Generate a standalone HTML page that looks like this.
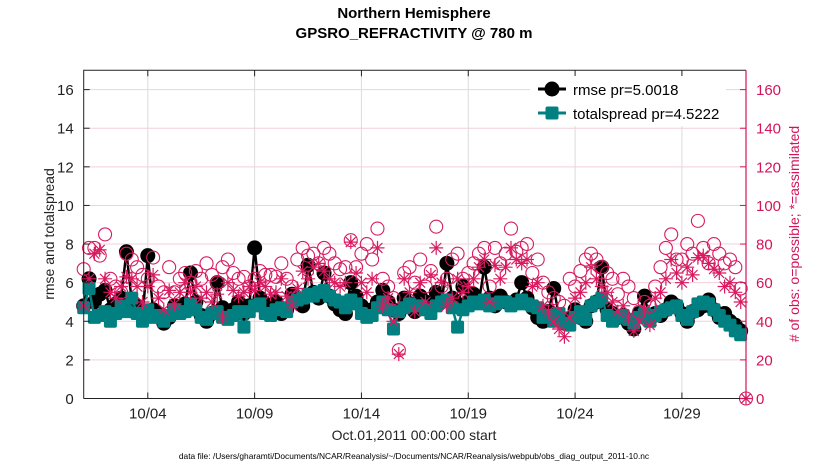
<!DOCTYPE html>
<html><head><meta charset="utf-8"><style>
html,body{margin:0;padding:0;background:#fff;}
svg{display:block;font-family:"Liberation Sans",Arial,sans-serif;}
</style></head><body>
<svg id="chart" width="830" height="470" viewBox="0 0 830 470">
<text x="414" y="18" text-anchor="middle" font-size="15" font-weight="bold" fill="#000">Northern Hemisphere</text>
<text x="414" y="38" text-anchor="middle" font-size="15" font-weight="bold" fill="#000">GPSRO_REFRACTIVITY @ 780 m</text>
<g id="grid"></g>
<g id="series"></g>
<g id="axes"></g>
<text transform="translate(54,234) rotate(-90)" text-anchor="middle" font-size="14" fill="#222">rmse and totalspread</text>
<text transform="translate(799,234) rotate(-90)" text-anchor="middle" font-size="14" fill="#d4145a"># of obs: o=possible; *=assimilated</text>
<text x="414" y="440" text-anchor="middle" font-size="14" fill="#222">Oct.01,2011 00:00:00 start</text>
<text x="414" y="459" text-anchor="middle" font-size="8.4" fill="#000">data file: /Users/gharamti/Documents/NCAR/Reanalysis/~/Documents/NCAR/Reanalysis/webpub/obs_diag_output_2011-10.nc</text>
<g>
<rect x="530" y="76" width="196" height="50" fill="#fff"/>
<line x1="538" y1="89" x2="566" y2="89" stroke="#000" stroke-width="3"/>
<circle cx="552" cy="89" r="7.5" fill="#000"/>
<text x="573" y="95" font-size="15" fill="#000">rmse pr=5.0018</text>
<line x1="538" y1="113" x2="566" y2="113" stroke="#008080" stroke-width="3"/>
<rect x="545.5" y="106.5" width="13" height="13" rx="2" fill="#008080"/>
<text x="573" y="119" font-size="15" fill="#000">totalspread pr=4.5222</text>
</g>
</svg>
<script>
const rmse=[4.8,6.2,5.0,5.4,5.6,4.6,4.9,5.2,7.6,5.0,4.8,4.3,
7.4,4.6,4.4,3.9,4.2,4.8,4.6,4.9,6.5,5.0,4.3,4.0,
4.4,6.0,4.7,4.2,4.6,5.0,4.4,4.8,7.8,5.2,4.9,4.8,
5.0,4.4,4.6,5.4,5.0,4.8,6.9,5.5,5.2,6.5,5.3,4.9,
4.6,4.4,6.0,5.3,4.8,4.3,4.6,5.0,5.6,5.0,4.6,4.4,
5.2,4.9,4.5,5.3,5.0,4.7,5.5,5.0,7.0,5.2,4.9,5.8,
5.0,5.4,5.0,6.8,5.2,4.8,5.3,5.0,4.9,5.1,6.0,5.2,
4.7,4.2,4.0,4.5,5.7,4.3,3.9,4.1,4.6,4.2,4.0,4.8,
5.0,6.8,4.6,4.4,4.2,4.3,3.9,3.6,4.4,5.3,4.1,4.4,
4.3,4.6,5.0,4.8,4.4,4.0,4.5,4.6,4.8,5.1,4.6,4.2,
4.4,4.0,3.8,3.5];
const spread=[4.7,5.7,4.2,4.3,4.5,4.0,4.4,4.8,4.5,5.2,4.4,4.0,
4.6,4.2,4.3,4.0,4.3,4.6,4.4,4.5,4.9,4.6,4.2,4.1,
4.4,4.5,4.2,4.1,4.3,4.5,3.7,4.5,4.8,4.9,4.4,4.3,
4.6,4.7,4.5,5.0,5.1,5.2,5.4,5.3,5.5,5.6,5.3,5.1,
5.0,4.7,5.1,4.9,4.4,4.2,4.3,4.7,5.0,4.6,3.6,4.5,
4.7,4.9,4.8,4.8,4.6,4.4,4.8,5.0,5.1,4.7,3.7,4.6,
4.8,5.0,4.9,5.1,4.8,4.9,5.0,5.0,4.8,4.9,5.1,4.9,
4.8,4.7,4.2,4.3,4.0,4.4,3.9,3.8,4.2,4.5,4.1,4.8,
5.0,5.2,4.3,4.0,4.2,4.3,4.1,3.9,4.2,4.4,4.0,4.3,
4.5,4.6,4.7,4.8,4.3,4.1,4.5,4.9,5.0,4.9,4.6,4.3,
4.0,3.8,3.5,3.3];
const possible=[67,78,78,74,85,62,58,55,75,72,68,64,
62,73,58,55,68,55,62,65,60,66,62,70,
64,60,68,72,65,62,63,58,62,66,64,64,
63,70,62,58,72,78,74,75,70,78,75,70,
67,68,82,68,75,80,72,88,62,58,52,25,
65,68,60,72,58,66,89,58,62,72,75,62,
65,70,75,78,58,78,70,75,88,76,78,80,
65,72,60,55,52,50,48,62,58,66,72,75,
72,68,65,62,54,62,58,52,45,50,48,58,
68,78,85,72,72,80,75,92,78,70,80,75,
70,72,68,57,0];
const assimilated=[48,62,75,77,62,55,52,58,63,62,58,50,
58,64,52,46,56,49,55,60,55,58,52,55,
50,54,42,60,56,53,55,58,56,60,58,54,
55,62,53,48,57,66,62,68,70,66,62,60,
58,60,81,65,60,55,62,78,48,52,40,23,
62,55,45,60,50,64,78,60,48,52,62,55,
58,62,68,72,50,69,62,68,78,72,70,72,
58,60,48,45,40,36,32,42,52,55,60,68,
62,58,55,50,45,48,42,35,40,46,38,52,
55,62,72,65,60,68,64,73,74,70,67,65,
58,60,55,50,0];
const xTickDays=[3,8,13,18,23,28];
const xTickLabels=["10/04","10/09","10/14","10/19","10/24","10/29"];
const yLeftTicks=[0,2,4,6,8,10,12,14,16];
const yRightTicks=[0,20,40,60,80,100,120,140,160];
const STEP_DAYS=0.25;

const L=83.7,R=746,T=70.3,B=398.5,XMAX=31,YMAX=17,YRMAX=170;
const xs=d=>L+d/XMAX*(R-L);
const yl=v=>B-v/YMAX*(B-T);
const yr=v=>B-v/YRMAX*(B-T);
const NS='http://www.w3.org/2000/svg';
function mk(tag,attrs,parent){const e=document.createElementNS(NS,tag);for(const k in attrs)e.setAttribute(k,attrs[k]);parent.appendChild(e);return e;}
const grid=document.getElementById('grid'),ser=document.getElementById('series'),ax=document.getElementById('axes');

yLeftTicks.forEach(v=>{if(v===0)return;const e=mk('line',{x1:L,x2:R,y1:yl(v),y2:yl(v),stroke:'#f3cfdc','stroke-width':1},grid);

});
xTickDays.forEach(d=>{const e=mk('line',{x1:xs(d),x2:xs(d),y1:T,y2:B,stroke:'#dcdcdc','stroke-width':1},grid);

});

let p='';rmse.forEach((v,i)=>{p+=(i?'L':'M')+xs(i*STEP_DAYS).toFixed(1)+' '+yl(v).toFixed(1);});
const rl=mk('path',{d:p,fill:'none',stroke:'#000','stroke-width':2.5},ser);


rmse.forEach((v,i)=>{const c=mk('circle',{cx:xs(i*STEP_DAYS),cy:yl(v),r:7.5,fill:'#000'},ser);

});
p='';spread.forEach((v,i)=>{p+=(i?'L':'M')+xs(i*STEP_DAYS).toFixed(1)+' '+yl(v).toFixed(1);});
const sl=mk('path',{d:p,fill:'none',stroke:'#008080','stroke-width':2.5},ser);


spread.forEach((v,i)=>{const s=mk('rect',{x:xs(i*STEP_DAYS)-6.5,y:yl(v)-6.5,width:13,height:13,rx:2,fill:'#008080'},ser);

});
possible.forEach((v,i)=>{const c=mk('circle',{cx:xs(i*STEP_DAYS),cy:yr(v),r:6.5,fill:'none',stroke:'#d81b60','stroke-width':1.1},ser);

});
assimilated.forEach((v,i)=>{const cx=xs(i*STEP_DAYS),cy=yr(v),r=7;
let d='';for(let k=0;k<4;k++){const a=k*Math.PI/4;d+=`M${(cx-r*Math.cos(a)).toFixed(1)} ${(cy-r*Math.sin(a)).toFixed(1)}L${(cx+r*Math.cos(a)).toFixed(1)} ${(cy+r*Math.sin(a)).toFixed(1)}`;}
const s=mk('path',{d:d,stroke:'#d81b60','stroke-width':1.2,fill:'none'},ser);

});

const box=mk('path',{d:`M${L} ${B}L${L} ${T}L${R} ${T}M${L} ${B}L${R} ${B}`,fill:'none',stroke:'#222','stroke-width':1},ax);


const ra=mk('line',{x1:R,x2:R,y1:T,y2:B,stroke:'#d4145a','stroke-width':1.2},ax);


yLeftTicks.forEach(v=>{mk('line',{x1:L,x2:L+6,y1:yl(v),y2:yl(v),stroke:'#222'},ax);
const t=mk('text',{x:L-10,y:yl(v)+5.5,'text-anchor':'end','font-size':15,fill:'#222'},ax);t.textContent=v;

});
yRightTicks.forEach(v=>{mk('line',{x1:R-6,x2:R,y1:yr(v),y2:yr(v),stroke:'#d4145a'},ax);
const t=mk('text',{x:R+10,y:yr(v)+5.5,'text-anchor':'start','font-size':15,fill:'#d4145a'},ax);t.textContent=v;

});
xTickDays.forEach((d,i)=>{mk('line',{x1:xs(d),x2:xs(d),y1:B,y2:B-6,stroke:'#222'},ax);
mk('line',{x1:xs(d),x2:xs(d),y1:T,y2:T+6,stroke:'#222'},ax);
const t=mk('text',{x:xs(d),y:B+20,'text-anchor':'middle','font-size':15,fill:'#222'},ax);t.textContent=xTickLabels[i];

});
</script>
</body></html>
